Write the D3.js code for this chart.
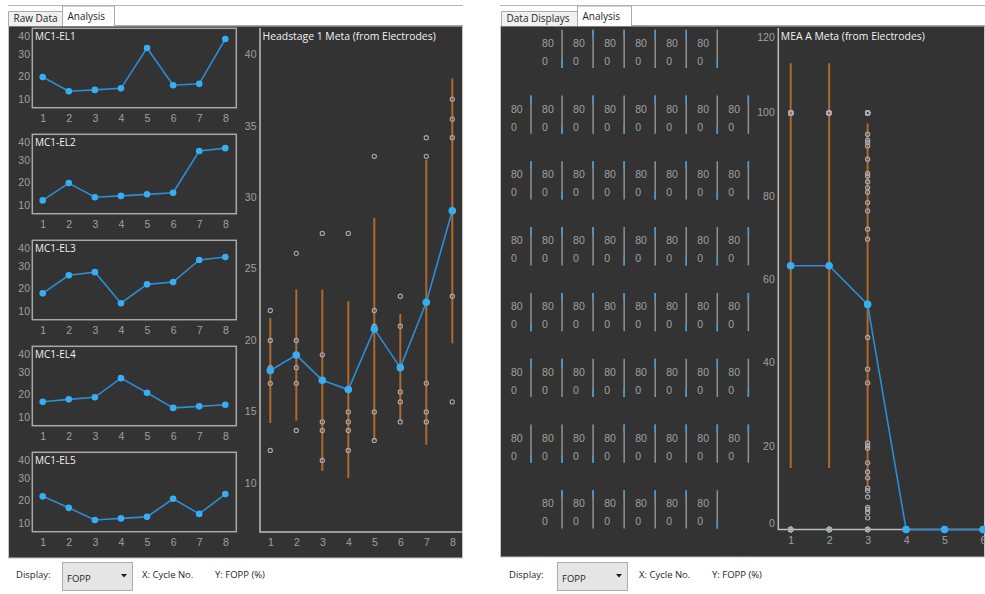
<!DOCTYPE html>
<html>
<head>
<meta charset="utf-8">
<script src="https://cdn.jsdelivr.net/npm/d3@7"></script>
<style>
  body { margin: 0; background: #fff; }
  svg { display: block; font-family: "Open Sans", "Noto Sans", sans-serif; }
  .axis .tick text { fill: #a0a0a0; font-size: 10.5px; }
  .axis path, .axis line { display: none; }
  .ui { fill: #262626; font-size: 9.5px; }
</style>
</head>
<body>
<svg id="chart" width="985" height="594"></svg>
<script>
// ---- left screen: headstage 1, five electrodes, FOPP (%) per cycle ----
var cycles = [1, 2, 3, 4, 5, 6, 7, 8];
var electrodeNames = ["MC1-EL1", "MC1-EL2", "MC1-EL3", "MC1-EL4", "MC1-EL5"];
var el1 = [20.0, 13.7, 14.3, 15.0, 32.9, 16.4, 17.0, 36.9];
var el2 = [12.3, 20.0, 13.7, 14.3, 15.0, 15.7, 34.2, 35.5];
var el3 = [18.1, 26.1, 27.5, 13.7, 22.1, 23.1, 32.9, 34.2];
var el4 = [17.0, 18.1, 19.0, 27.5, 21.0, 14.3, 15.0, 15.7];
var el5 = [22.1, 17.0, 11.6, 12.3, 13.0, 21.0, 14.3, 23.1];
var electrodes = [el1, el2, el3, el4, el5];
var smallTicks = [10, 20, 30, 40];
var metaTicks = [10, 15, 20, 25, 30, 35, 40];

// ---- right screen: MEA A, 60 electrodes (8x8 grid without corners) ----
var meaCycles = [1, 2, 3, 4, 5, 6];
var meaRows = [6, 8, 8, 8, 8, 8, 8, 6];
var meaCycle1 = [0, 100, 100, 100, 100, 0,
  100, 0, 100, 0, 100, 100, 0, 100,
  100, 0, 100, 100, 0, 100, 0, 100,
  100, 100, 100, 0, 100, 0, 0, 100,
  0, 100, 100, 100, 100, 0, 0, 100,
  100, 100, 0, 0, 100, 0, 100, 0,
  0, 0, 0, 100, 100, 100, 100, 100,
  100, 100, 100, 100, 100, 0];
var meaCycle2 = [0, 100, 100, 100, 100, 0,
  100, 0, 100, 0, 100, 100, 0, 100,
  100, 0, 100, 100, 0, 100, 0, 100,
  100, 100, 100, 0, 100, 0, 0, 100,
  0, 100, 100, 100, 100, 0, 0, 100,
  100, 100, 0, 0, 100, 0, 100, 0,
  0, 0, 0, 100, 100, 100, 100, 100,
  100, 100, 100, 100, 100, 0];
var meaCycle3 = [100, 94.9, 0, 46.1, 100, 93.5, 20.8, 0,
  100, 92.9, 38.5, 100, 0, 92.1, 35.2, 100,
  88.9, 20.1, 100, 0, 85.5, 19.5, 100, 84.9,
  16.0, 0, 100, 83.5, 13.8, 100, 82.1, 0,
  12.4, 100, 81.0, 9.9, 100, 0, 78.5, 9.3,
  100, 76.5, 7.8, 0, 100, 72.1, 5.3, 100,
  69.7, 4.8, 0, 100, 4.1, 100, 2.8, 0,
  100, 0, 100, 0];
var meaCycle4 = [0, 0, 0, 0, 0, 0, 0, 0, 0, 0, 0, 0, 0, 0, 0, 0, 0, 0, 0, 0,
  0, 0, 0, 0, 0, 0, 0, 0, 0, 0, 0, 0, 0, 0, 0, 0, 0, 0, 0, 0,
  0, 0, 0, 0, 0, 0, 0, 0, 0, 0, 0, 0, 0, 0, 0, 0, 0, 0, 0, 0];
var meaCycle5 = [0, 0, 0, 0, 0, 0, 0, 0, 0, 0, 0, 0, 0, 0, 0, 0, 0, 0, 0, 0,
  0, 0, 0, 0, 0, 0, 0, 0, 0, 0, 0, 0, 0, 0, 0, 0, 0, 0, 0, 0,
  0, 0, 0, 0, 0, 0, 0, 0, 0, 0, 0, 0, 0, 0, 0, 0, 0, 0, 0, 0];
var meaCycle6 = [0, 0, 0, 0, 0, 0, 0, 0, 0, 0, 0, 0, 0, 0, 0, 0, 0, 0, 0, 0,
  0, 0, 0, 0, 0, 0, 0, 0, 0, 0, 0, 0, 0, 0, 0, 0, 0, 0, 0, 0,
  0, 0, 0, 0, 0, 0, 0, 0, 0, 0, 0, 0, 0, 0, 0, 0, 0, 0, 0, 0];
var meaByCycle = [meaCycle1, meaCycle2, meaCycle3, meaCycle4, meaCycle5, meaCycle6];
var cellTicks = [0, 80];
var meaTicks = [0, 20, 40, 60, 80, 100, 120];

var lineColor = "#2d8dd3", dotColor = "#36aef4", barColor = "#b0682b",
    ringColor = "#a9abb3", frameColor = "#a8a8a8", panelColor = "#333333";

var svg = d3.select("#chart");

// window chrome: tab strip, dark panel, display selector
function drawChrome(x0, x1, tabs, controls) {
  svg.append("line").attr("x1", x0).attr("x2", x1).attr("y1", 5.5).attr("y2", 5.5)
    .attr("stroke", "#b4b4b4");
  svg.append("rect").attr("x", x0 + 0.5).attr("y", 26).attr("width", x1 - x0 - 1).attr("height", controls.panelBottom - 26)
    .attr("fill", panelColor).attr("stroke", "#c4c4c4");
  svg.append("line").attr("x1", tabs[1].x + tabs[1].w).attr("x2", x1).attr("y1", 25.5).attr("y2", 25.5)
    .attr("stroke", "#acacac");
  tabs.forEach(function(t) {
    var top = t.selected ? 6 : 11.5;
    svg.append("path")
      .attr("d", "M" + t.x + "," + 26 + "V" + top + "H" + (t.x + t.w) + "V" + 26)
      .attr("fill", t.selected ? "#fff" : "#f0f0f0").attr("stroke", "#acacac");
    svg.append("text").attr("class", "ui").attr("x", t.x + 5).attr("y", t.selected ? 20 : 22)
      .style("font-size", "10px").text(t.label);
  });
  var cy = 578;
  svg.append("text").attr("class", "ui").attr("x", controls.display).attr("y", cy).text("Display:");
  svg.append("rect").attr("x", controls.box + 0.5).attr("y", 562.5).attr("width", 70).attr("height", 28)
    .attr("fill", "#e5e5e5").attr("stroke", "#adadad");
  svg.append("text").attr("class", "ui").attr("x", controls.box + 5).attr("y", 582).text("FOPP");
  svg.append("path")
    .attr("d", "M" + (controls.box + 59) + ",574l6,0l-3,3.5z").attr("fill", "#1e1e1e");
  svg.append("text").attr("class", "ui").attr("x", controls.xlab).attr("y", cy).text("X: Cycle No.");
  svg.append("text").attr("class", "ui").attr("x", controls.xlab + 73).attr("y", cy).text("Y: FOPP (%)");
}

drawChrome(8, 463, [{label: "Raw Data", x: 8.5, w: 54}, {label: "Analysis", x: 62.5, w: 52, selected: true}],
  {panelBottom: 558, display: 16, box: 62, xlab: 142});
drawChrome(500, 985, [{label: "Data Displays", x: 501.5, w: 76}, {label: "Analysis", x: 577.5, w: 54, selected: true}],
  {panelBottom: 557, display: 509, box: 557, xlab: 639});

// small electrode charts
electrodes.forEach(function(vals, k) {
  var top = 28.3 + 106 * k, h = 79.4;
  var x = d3.scaleLinear().domain([1, 8]).range([42.7, 225.3]);
  var y = d3.scaleLinear().domain([10, 40]).range([top + 71.3, top + 3.7]);
  var g = svg.append("g");

  g.append("rect").attr("x", 32.3).attr("y", top).attr("width", 204).attr("height", h)
    .attr("fill", "none").attr("stroke", frameColor).attr("stroke-width", 1.5);

  g.append("g").attr("class", "axis").attr("transform", "translate(32,0)")
    .call(d3.axisLeft(y).tickValues(smallTicks).tickSize(0).tickPadding(2))
    .selectAll(".tick").attr("transform", function(d) {
      return "translate(0," + Math.max(y(d), top + 8.4) + ")";
    });
  g.append("g").attr("class", "axis").attr("transform", "translate(0," + (top + h) + ")")
    .call(d3.axisBottom(x).tickValues(cycles).tickFormat(d3.format("d")).tickSize(0).tickPadding(7));

  g.append("text").attr("x", 35).attr("y", top + 12).attr("fill", "#f2f2f2")
    .style("font-size", "10px").text(electrodeNames[k]);

  g.append("path").datum(vals)
    .attr("fill", "none").attr("stroke", lineColor).attr("stroke-width", 1.6)
    .attr("d", d3.line().x(function(d, i) { return x(cycles[i]); }).y(function(d) { return y(d); }));
  g.selectAll("circle").data(vals).enter().append("circle")
    .attr("cx", function(d, i) { return x(cycles[i]); })
    .attr("cy", function(d) { return y(d); })
    .attr("r", 3.3).attr("fill", dotColor);
});

// meta chart: electrode values, mean +/- sd per cycle
function drawMeta(opt) {
  var x = d3.scaleLinear().domain(opt.xDomain).range(opt.xRange);
  var y = d3.scaleLinear().domain(opt.yDomain).range(opt.yRange);
  var g = svg.append("g");
  var stats = opt.cycles.map(function(c, i) {
    var v = opt.values[i];
    return {cycle: c, values: v, mean: d3.mean(v), sd: d3.deviation(v) || 0};
  });

  g.append("path")
    .attr("d", "M" + opt.left + "," + opt.top + "V" + opt.bottom + "H" + opt.right)
    .attr("fill", "none").attr("stroke", "#bdbdbd").attr("stroke-width", 1.5);

  g.append("g").attr("class", "axis").attr("transform", "translate(" + opt.left + ",0)")
    .call(d3.axisLeft(y).tickValues(opt.yTicks).tickSize(0).tickPadding(3.5))
    .selectAll(".tick").attr("transform", function(d) {
      return "translate(0," + Math.min(Math.max(y(d), opt.top + 9.5), opt.bottom - 6) + ")";
    });
  g.append("g").attr("class", "axis").attr("transform", "translate(0," + opt.bottom + ")")
    .call(d3.axisBottom(x).tickValues(opt.cycles).tickFormat(d3.format("d")).tickSize(0).tickPadding(7));

  g.append("text").attr("x", opt.left + 2.5).attr("y", opt.top + 12).attr("fill", "#f2f2f2")
    .style("font-size", "10.4px").text(opt.title);

  g.selectAll(".err").data(stats.filter(function(s) { return s.sd > 0; })).enter().append("line")
    .attr("x1", function(s) { return x(s.cycle); }).attr("x2", function(s) { return x(s.cycle); })
    .attr("y1", function(s) { return y(s.mean - s.sd); })
    .attr("y2", function(s) { return y(s.mean + s.sd); })
    .attr("stroke", barColor).attr("stroke-width", 2);

  stats.forEach(function(s) {
    g.selectAll(null).data(s.values).enter().append("circle")
      .attr("cx", x(s.cycle)).attr("cy", function(d) { return y(d); })
      .attr("r", 2.1).attr("fill", "none").attr("stroke", ringColor).attr("stroke-width", 1.1);
  });

  g.append("path").datum(stats)
    .attr("fill", "none").attr("stroke", lineColor).attr("stroke-width", 1.6)
    .attr("d", d3.line().x(function(s) { return x(s.cycle); }).y(function(s) { return y(s.mean); }));
  g.selectAll(".mean").data(stats).enter().append("circle")
    .attr("cx", function(s) { return x(s.cycle); }).attr("cy", function(s) { return y(s.mean); })
    .attr("r", 3.8).attr("fill", dotColor);
}

drawMeta({
  title: "Headstage 1 Meta (from Electrodes)",
  cycles: cycles,
  values: cycles.map(function(c, i) { return electrodes.map(function(e) { return e[i]; }); }),
  xDomain: [1, 8], xRange: [270.3, 452.3],
  yDomain: [10, 40], yRange: [483.3, 54.9], yTicks: metaTicks,
  left: 260, right: 462, top: 28, bottom: 532
});

// MEA grid of tiny per-electrode charts
var cellIndex = 0;
meaRows.forEach(function(n, r) {
  var rowTop = 29.7 + 65.8 * r, rowBottom = rowTop + 38.3;
  var firstCol = n === 6 ? 1 : 0;
  var yLab = d3.scaleLinear().domain([0, 80]).range([rowTop + 31.3, rowTop + 13.3]);
  var yMark = d3.scaleLinear().domain([0, 100]).range([rowBottom - 4, rowTop + 4]);
  for (var c = firstCol; c < firstCol + n; c++) {
    var lx = 531 + 31.05 * c;
    var g = svg.append("g");
    g.append("g").attr("class", "axis").attr("transform", "translate(" + (lx - 20) + ",0)")
      .call(d3.axisLeft(yLab).tickValues(cellTicks).tickSize(0).tickPadding(0))
      .selectAll("text").attr("text-anchor", "start").attr("x", 0);
    g.append("line").attr("x1", lx).attr("x2", lx).attr("y1", rowTop).attr("y2", rowBottom)
      .attr("stroke", "#929292").attr("stroke-width", 1.5);
    var v = meaCycle1[cellIndex];
    g.append("line").attr("x1", lx).attr("x2", lx)
      .attr("y1", yMark(v) - 4).attr("y2", yMark(v) + 4)
      .attr("stroke", "#4f98c9").attr("stroke-width", 1.5);
    cellIndex++;
  }
});

drawMeta({
  title: "MEA A Meta (from Electrodes)",
  cycles: meaCycles,
  values: meaByCycle,
  xDomain: [1, 6], xRange: [790.7, 983],
  yDomain: [0, 120], yRange: [529.5, 29.7], yTicks: meaTicks,
  left: 778.3, right: 985, top: 28, bottom: 529.5
});
</script>
</body>
</html>
